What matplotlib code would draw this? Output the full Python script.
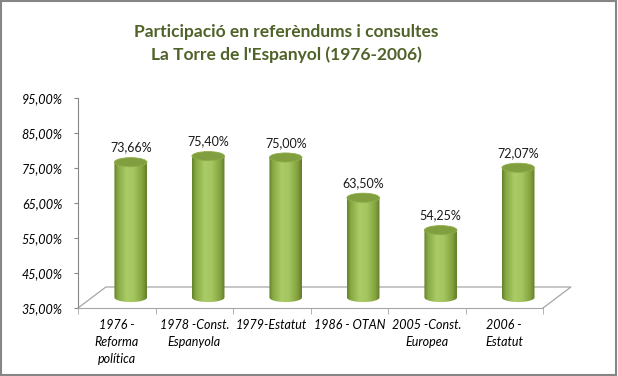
import numpy as np
import matplotlib.pyplot as plt
from matplotlib.patches import Ellipse, Rectangle, PathPatch
from matplotlib.path import Path
from matplotlib.colors import LinearSegmentedColormap

# Participació en referèndums i consultes - La Torre de l'Espanyol
categories = ["1976 -\nReforma\npolítica", "1978 -Const.\nEspanyola", "1979-Estatut",
              "1986 - OTAN", "2005 -Const.\nEuropea", "2006 -\nEstatut"]
values = [73.66, 75.40, 75.00, 63.50, 54.25, 72.07]
y_ticks = [35, 45, 55, 65, 75, 85, 95]

plt.rcParams['font.family'] = ['Lato', 'DejaVu Sans']

fig = plt.figure(figsize=(6.18, 3.76), dpi=100)
ax = fig.add_axes([78 / 618, 68 / 376, 465 / 618, 210 / 376])

ymin, ymax = 35, 95
depth_dx, depth_dy = 0.36, 6.0      # full floor depth (category units, % units)
bdx, bdy = depth_dx / 2, depth_dy / 2  # bars stand at mid depth
bw = 0.42                           # cylinder width
eh = 2.6                            # ellipse height in % units

body_cmap = LinearSegmentedColormap.from_list('cyl', [
    (0.0, '#62802a'), (0.12, '#88aa45'), (0.38, '#aacb66'),
    (0.6, '#a4c560'), (0.85, '#86a541'), (1.0, '#5f7c28')])
grad = body_cmap(np.linspace(0, 1, 256))[None, :, :]

x = np.arange(len(values))
for xi, v in zip(x, values):
    cx = xi + bdx
    y0 = ymin + bdy
    y1 = v + bdy
    # body outline: rectangle + bottom half ellipse
    t = np.linspace(np.pi, 2 * np.pi, 40)
    bottom = np.column_stack([cx + bw / 2 * np.cos(t), y0 + eh / 2 * np.sin(t)])
    verts = np.vstack([[cx - bw / 2, y1], bottom, [cx + bw / 2, y1], [cx - bw / 2, y1]])
    codes = [Path.MOVETO] + [Path.LINETO] * (len(verts) - 2) + [Path.CLOSEPOLY]
    clip = PathPatch(Path(verts, codes), facecolor='none', edgecolor='none',
                     transform=ax.transData)
    ax.add_patch(clip)
    im = ax.imshow(grad, extent=[cx - bw / 2, cx + bw / 2, y0 - eh, y1],
                   aspect='auto', zorder=3, interpolation='bilinear')
    im.set_clip_path(clip)
    ax.add_patch(Ellipse((cx, y1), bw, eh, facecolor='#819f3f',
                         edgecolor='#8fae4b', lw=0.6, zorder=4))
    lbl = f"{v:.2f}%".replace('.', ',')
    ax.annotate(lbl, (cx, y1 + eh / 2), xytext=(0, 3), textcoords='offset points',
                ha='center', va='bottom', fontsize=9, color='#1a1a1a', zorder=5)

# floor
fx = [-0.5, -0.5 + depth_dx, 5.5 + depth_dx, 5.5]
fy = [ymin, ymin + depth_dy, ymin + depth_dy, ymin]
ax.plot(fx, fy, color='#a6a6a6', lw=0.9, clip_on=False, zorder=2)

ax.set_xlim(-0.5, 5.5)
ax.set_ylim(ymin, ymax)
ax.set_xticks(x)
ax.set_xticklabels(categories, fontsize=9, style='italic', linespacing=1.5)
ax.set_xticks(np.arange(-0.5, 6, 1), minor=True)
ax.tick_params(axis='x', which='major', length=0, pad=8)
ax.tick_params(axis='x', which='minor', length=4, color='#a6a6a6')
ax.set_yticks(y_ticks)
ax.set_yticklabels([f"{t:.2f}%".replace('.', ',') for t in y_ticks],
                   fontsize=9, style='italic')
ax.tick_params(axis='y', length=3, color='#868686', pad=8)
for s in ['top', 'right']:
    ax.spines[s].set_visible(False)
ax.spines['left'].set_color('#868686')
ax.spines['bottom'].set_color('#a6a6a6')

fig.text(286 / 618, 1 - 32 / 376, "Participació en referèndums i consultes",
         ha='center', va='center', fontsize=12.5, fontweight='bold', color='#4f6228')
fig.text(286 / 618, 1 - 55 / 376, "La Torre de l'Espanyol (1976-2006)",
         ha='center', va='center', fontsize=12.5, fontweight='bold', color='#4f6228')

fig.patches.append(Rectangle((0.002, 0.003), 0.995, 0.994, transform=fig.transFigure,
                             fill=False, edgecolor='#868686', lw=1.5))

fig.savefig('out.png', dpi=100)
